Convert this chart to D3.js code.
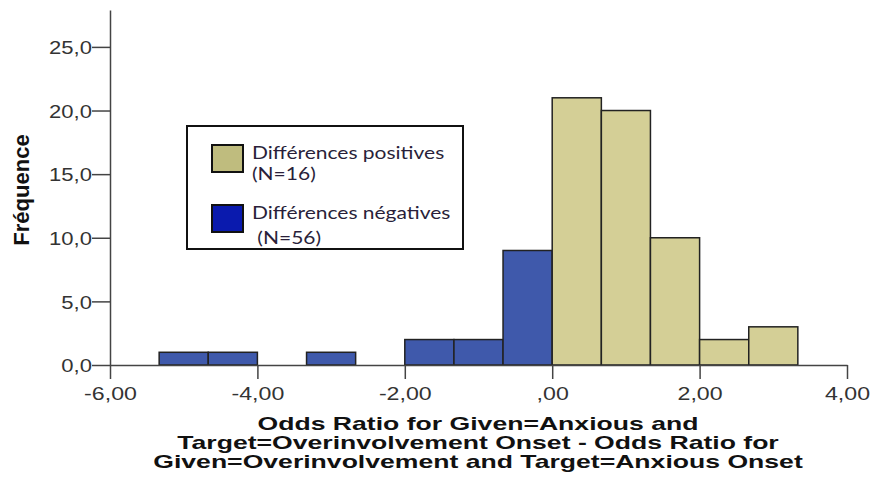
<!DOCTYPE html>
<html>
<head>
<meta charset="utf-8">
<script src="https://cdn.jsdelivr.net/npm/d3@7/dist/d3.min.js"></script>
<style>
  body { margin: 0; background: #fff; }
  .tick text { font-family: "Liberation Sans", Arial, sans-serif; font-size: 19px; fill: #333; }
  .tick line, .domain { stroke: #444; stroke-width: 1.5; }
</style>
</head>
<body>
<script>
// histogram bins (lower / upper edges), counts and sign group
var binStart = [-5.333, -4.667, -3.333, -2.000, -1.333, -0.667, 0.000, 0.667, 1.333, 2.000, 2.667];
var binEnd   = [-4.667, -4.000, -2.667, -1.333, -0.667, 0.000, 0.667, 1.333, 2.000, 2.667, 3.333];
var counts   = [1, 1, 1, 2, 2, 9, 21, 20, 10, 2, 3];
var groups   = ["neg", "neg", "neg", "neg", "neg", "neg", "pos", "pos", "pos", "pos", "pos"];

var xTicks = [-6, -4, -2, 0, 2, 4];
var yTicks = [0, 5, 10, 15, 20, 25];

var legendGroups = ["pos", "neg"];
var legendLine1 = ["Différences positives", "Différences négatives"];
var legendLine2 = ["(N=16)", " (N=56)"];

var xTitle = ["Odds Ratio for Given=Anxious and",
              "Target=Overinvolvement Onset - Odds Ratio for",
              "Given=Overinvolvement and Target=Anxious Onset"];
var yTitle = "Fréquence";

var barFill = { pos: "#d4cf96", neg: "#3f59ab" };
var swatchFill = { pos: "#bfbc7e", neg: "#0a1aae" };

var svg = d3.select("body").append("svg")
  .attr("width", 874).attr("height", 479);

var x = d3.scaleLinear().domain([-6, 4]).range([110, 847]);
var y = d3.scaleLinear().domain([0, 27.9]).range([365, 10]);

// comma decimal format, plain hyphen for minus
function fmt(p) {
  var f = d3.format("." + p + "f");
  return function(d) {
    var s = f(d).replace(".", ",").replace("\u2212", "-");
    if (p == 2 && d == 0) s = s.slice(1);
    return s;
  };
}

// bars
svg.selectAll(".bar")
  .data(counts)
  .enter().append("rect")
  .attr("class", "bar")
  .attr("x", function(d, i) { return x(binStart[i]); })
  .attr("width", function(d, i) { return x(binEnd[i]) - x(binStart[i]); })
  .attr("y", function(d) { return y(d); })
  .attr("height", function(d) { return y(0) - y(d); })
  .attr("fill", function(d, i) { return barFill[groups[i]]; })
  .attr("stroke", "#222")
  .attr("stroke-width", 1.5);

// x axis
var gx = svg.append("g")
  .attr("transform", "translate(0," + y(0) + ")")
  .call(d3.axisBottom(x).tickValues(xTicks).tickFormat(fmt(2)).tickSize(14).tickSizeOuter(0));
gx.selectAll(".tick text")
  .attr("y", 0).attr("dy", 0)
  .attr("transform", "translate(0,35) scale(1.22,1)");

// y axis
var gy = svg.append("g")
  .attr("transform", "translate(" + x(-6) + ",0)")
  .call(d3.axisLeft(y).tickValues(yTicks).tickFormat(fmt(1)).tickSize(18).tickSizeOuter(0));
gy.selectAll(".tick text")
  .attr("x", 0).attr("dy", "0.36em")
  .attr("transform", "translate(-18,0) scale(1.16,1)");

// axis titles
var xt = svg.append("g").attr("transform", "translate(478,0)");
xt.selectAll("text")
  .data(xTitle)
  .enter().append("text")
  .attr("transform", function(d, i) { return "translate(0," + (430 + i * 19) + ") scale(1.52,1)"; })
  .attr("text-anchor", "middle")
  .style("font-family", "Liberation Sans, Arial, sans-serif")
  .style("font-weight", "bold")
  .style("font-size", "17.5px")
  .attr("fill", "#111")
  .text(function(d) { return d; });

svg.append("text")
  .attr("transform", "translate(29,190) rotate(-90)")
  .attr("text-anchor", "middle")
  .style("font-family", "Liberation Sans, Arial, sans-serif")
  .style("font-weight", "bold")
  .style("font-size", "22px")
  .attr("fill", "#111")
  .text(yTitle);

// legend
var lg = svg.append("g").attr("transform", "translate(187,126)");
lg.append("rect")
  .attr("width", 276).attr("height", 123)
  .attr("fill", "#fff").attr("stroke", "#111").attr("stroke-width", 2);

var item = lg.selectAll(".item")
  .data(legendGroups)
  .enter().append("g")
  .attr("class", "item")
  .attr("transform", function(d, i) { return "translate(0," + (i * 60) + ")"; });

item.append("rect")
  .attr("x", 25).attr("y", 19).attr("width", 31).attr("height", 27)
  .attr("fill", function(d) { return swatchFill[d]; })
  .attr("stroke", "#111").attr("stroke-width", 2);

item.append("text")
  .attr("transform", "translate(65,33) scale(1.2,1)")
  .style("font-family", "Lato, sans-serif")
  .style("font-size", "17.5px")
  .attr("fill", "#2a1f3a")
  .text(function(d, i) { return legendLine1[i]; });

item.append("text")
  .attr("transform", function(d, i) { return "translate(65," + (54 + i * 4) + ") scale(1.2,1)"; })
  .style("font-family", "Lato, sans-serif")
  .style("font-size", "17.5px")
  .attr("fill", "#2a1f3a")
  .attr("xml:space", "preserve")
  .text(function(d, i) { return legendLine2[i]; });
</script>
</body>
</html>
